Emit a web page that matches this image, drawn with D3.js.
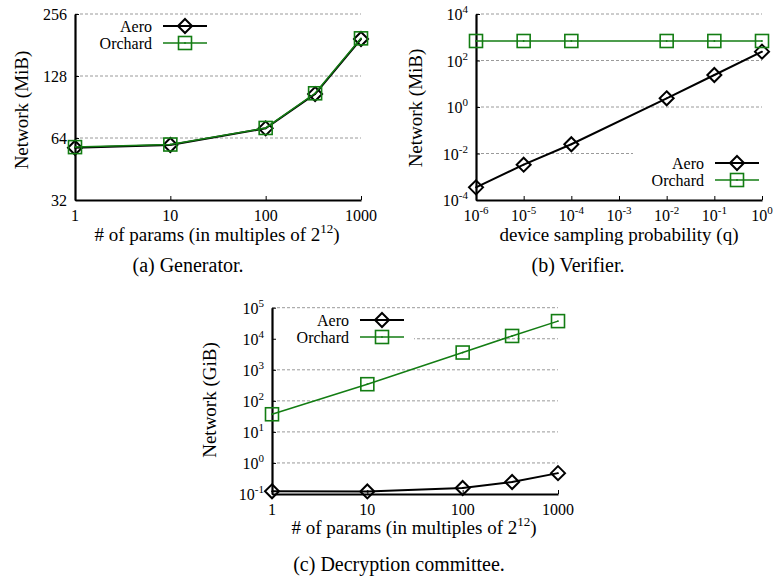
<!DOCTYPE html>
<html>
<head>
<meta charset="utf-8">
<script src="https://cdn.jsdelivr.net/npm/d3@7"></script>
<style>
  body { margin: 0; background: #fff; }
  svg text { font-family: "Liberation Serif", "Times New Roman", serif; fill: #000; }
</style>
</head>
<body>
<svg id="chart" width="774" height="583"></svg>
<script>
// (a) Generator
var genParams = [1, 10, 100, 330, 1000];
var genAero = [57.4, 59.2, 71.3, 104.6, 193.6];
var genOrchard = [57.8, 59.5, 71.6, 105.5, 195];
var genYTicks = [32, 64, 128, 256];

// (b) Verifier
var verQ = [1e-6, 1e-5, 1e-4, 1e-2, 1e-1, 1];
var verAero = [3.5e-4, 3.3e-3, 0.025, 2.36, 23.8, 240];
var verOrchard = [690, 690, 690, 690, 690, 690];
var verXTicks = [-6, -5, -4, -3, -2, -1, 0];
var verYTicks = [-4, -2, 0, 2, 4];

// (c) Decryption committee
var decParams = [1, 10, 100, 330, 1000];
var decAero = [0.122, 0.121, 0.156, 0.243, 0.47];
var decOrchard = [37, 344, 3600, 12300, 37000];
var decYTicks = [-1, 0, 1, 2, 3, 4, 5];

var paramTicks = [1, 10, 100, 1000];

var green = "#137d13";
var svg = d3.select("#chart");

function pow10Label(sel, e) {
  sel.text("10");
  sel.append("tspan").attr("dy", -7).attr("font-size", 11).text(e);
}

function drawMarker(g, type, x, y, color) {
  if (type === "diamond") {
    g.append("path")
      .attr("d", `M${x},${y - 7}L${x + 7},${y}L${x},${y + 7}L${x - 7},${y}Z`)
      .attr("fill", "none").attr("stroke", color).attr("stroke-width", 2);
  } else {
    g.append("rect")
      .attr("x", x - 6.5).attr("y", y - 6.5).attr("width", 13).attr("height", 13)
      .attr("fill", "none").attr("stroke", color).attr("stroke-width", 1.6);
  }
  g.append("circle").attr("cx", x).attr("cy", y).attr("r", 0.9).attr("fill", color);
}

function panel(cfg) {
  var g = svg.append("g");
  var x = d3.scaleLog().domain(cfg.xDomain).range(cfg.xRange);
  var y = d3.scaleLog().base(cfg.yBase).domain(cfg.yDomain).range(cfg.yRange);

  // gridlines
  cfg.grid.forEach(function (v) {
    g.append("line")
      .attr("x1", cfg.xRange[0]).attr("x2", cfg.xRange[1])
      .attr("y1", y(v)).attr("y2", y(v))
      .attr("stroke", "#9a9a9a").attr("stroke-width", 1)
      .attr("stroke-dasharray", "3,2");
  });

  // legend backdrop clears the grid
  if (cfg.legendBox) {
    var b = cfg.legendBox;
    g.append("rect").attr("x", b[0]).attr("y", b[1])
      .attr("width", b[2]).attr("height", b[3]).attr("fill", "#fff");
  }

  // axes
  var xAxis = d3.axisBottom(x).tickValues(cfg.xTicks).tickSizeInner(-4).tickSizeOuter(0).tickFormat("");
  var yAxis = d3.axisLeft(y).tickValues(cfg.yTicks).tickSizeInner(-4).tickSizeOuter(0).tickFormat("");
  var xa = g.append("g").attr("transform", `translate(0,${cfg.yRange[0]})`).call(xAxis);
  var ya = g.append("g").attr("transform", `translate(${cfg.xRange[0]},0)`).call(yAxis);
  [xa, ya].forEach(function (a) {
    a.select(".domain").attr("stroke", "#000").attr("stroke-width", 2.2);
    a.selectAll(".tick line").attr("stroke", "#000").attr("stroke-width", 1);
  });

  // tick labels
  cfg.xTicks.forEach(function (v) {
    var t = g.append("text").attr("x", x(v)).attr("y", cfg.yRange[0] + 21)
      .attr("text-anchor", "middle").attr("font-size", 16);
    if (cfg.xPow) pow10Label(t, Math.round(Math.log10(v)));
    else t.text(v);
  });
  cfg.yTicks.forEach(function (v) {
    var t = g.append("text").attr("x", cfg.xRange[0] - 8).attr("y", y(v) + 6)
      .attr("text-anchor", "end").attr("font-size", 16);
    if (cfg.yPow) pow10Label(t, Math.round(Math.log10(v)));
    else t.text(v);
  });

  // axis titles
  g.append("text")
    .attr("transform", `translate(${cfg.yLabelPos[0]},${cfg.yLabelPos[1]}) rotate(-90)`)
    .attr("text-anchor", "middle").attr("dominant-baseline", "central")
    .attr("font-size", 19).text(cfg.yLabel);
  var xl = g.append("text").attr("x", cfg.xLabelPos[0]).attr("y", cfg.xLabelPos[1])
    .attr("text-anchor", "middle").attr("font-size", 19);
  if (cfg.xLabelSup) {
    xl.append("tspan").text(cfg.xLabel);
    xl.append("tspan").attr("dy", -8).attr("font-size", 13).text(cfg.xLabelSup);
    xl.append("tspan").attr("dy", 8).text(")");
  } else {
    xl.text(cfg.xLabel);
  }
  g.append("text").attr("x", cfg.caption[0]).attr("y", cfg.caption[1])
    .attr("text-anchor", "middle").attr("font-size", 20).text(cfg.captionText);

  // series
  var line = d3.line().x(function (d) { return x(d[0]); }).y(function (d) { return y(d[1]); });
  cfg.series.forEach(function (s) {
    var pts = cfg.xs.map(function (v, i) { return [v, s.values[i]]; });
    g.append("path").datum(pts).attr("d", line)
      .attr("fill", "none").attr("stroke", s.color).attr("stroke-width", s.width);
    pts.forEach(function (p) { drawMarker(g, s.marker, x(p[0]), y(p[1]), s.color); });
  });

  // legend
  cfg.series.forEach(function (s, i) {
    var ly = cfg.legend[1] + i * 17;
    g.append("text").attr("x", cfg.legend[0]).attr("y", ly + 5.5)
      .attr("text-anchor", "end").attr("font-size", 16).text(s.name);
    g.append("line").attr("x1", cfg.legend[0] + 11).attr("x2", cfg.legend[0] + 55)
      .attr("y1", ly).attr("y2", ly).attr("stroke", s.color).attr("stroke-width", s.width);
    drawMarker(g, s.marker, cfg.legend[0] + 33, ly, s.color);
  });
}

panel({
  xDomain: [1, 1000], xRange: [75, 361],
  yBase: 2, yDomain: [32, 256], yRange: [200, 14],
  xTicks: paramTicks, yTicks: genYTicks, grid: [64, 128, 256],
  xs: genParams,
  series: [
    { name: "Aero", values: genAero, color: "#000", width: 2, marker: "diamond" },
    { name: "Orchard", values: genOrchard, color: green, width: 1.5, marker: "square" }
  ],
  legend: [152, 26],
  yLabel: "Network (MiB)", yLabelPos: [21, 110],
  xLabel: "# of params (in multiples of 2", xLabelSup: "12", xLabelPos: [217, 241],
  caption: [188, 272], captionText: "(a) Generator."
});

panel({
  xDomain: [1e-6, 1], xRange: [476, 762],
  yBase: 10, yDomain: [1e-4, 1e4], yRange: [200, 14],
  xTicks: verXTicks.map(function (e) { return Math.pow(10, e); }), xPow: true,
  yTicks: verYTicks.map(function (e) { return Math.pow(10, e); }), yPow: true,
  grid: [1e-2, 1, 1e2, 1e4],
  legendBox: [633, 150, 135, 40],
  xs: verQ,
  series: [
    { name: "Aero", values: verAero, color: "#000", width: 2, marker: "diamond" },
    { name: "Orchard", values: verOrchard, color: green, width: 1.5, marker: "square" }
  ],
  legend: [704, 163],
  yLabel: "Network (MiB)", yLabelPos: [415, 108],
  xLabel: "device sampling probability (q)", xLabelPos: [619, 241],
  caption: [578, 272], captionText: "(b) Verifier."
});

panel({
  xDomain: [1, 1000], xRange: [272, 558],
  yBase: 10, yDomain: [0.1, 1e5], yRange: [494, 307.7],
  xTicks: paramTicks,
  yTicks: decYTicks.map(function (e) { return Math.pow(10, e); }), yPow: true,
  grid: [1, 10, 100, 1e3, 1e4, 1e5],
  legendBox: [273, 311, 141, 34],
  xs: decParams,
  series: [
    { name: "Aero", values: decAero, color: "#000", width: 2, marker: "diamond" },
    { name: "Orchard", values: decOrchard, color: green, width: 1.5, marker: "square" }
  ],
  legend: [349, 320],
  yLabel: "Network (GiB)", yLabelPos: [209, 400],
  xLabel: "# of params (in multiples of 2", xLabelSup: "12", xLabelPos: [414, 534],
  caption: [399, 571], captionText: "(c) Decryption committee."
});
</script>
</body>
</html>
